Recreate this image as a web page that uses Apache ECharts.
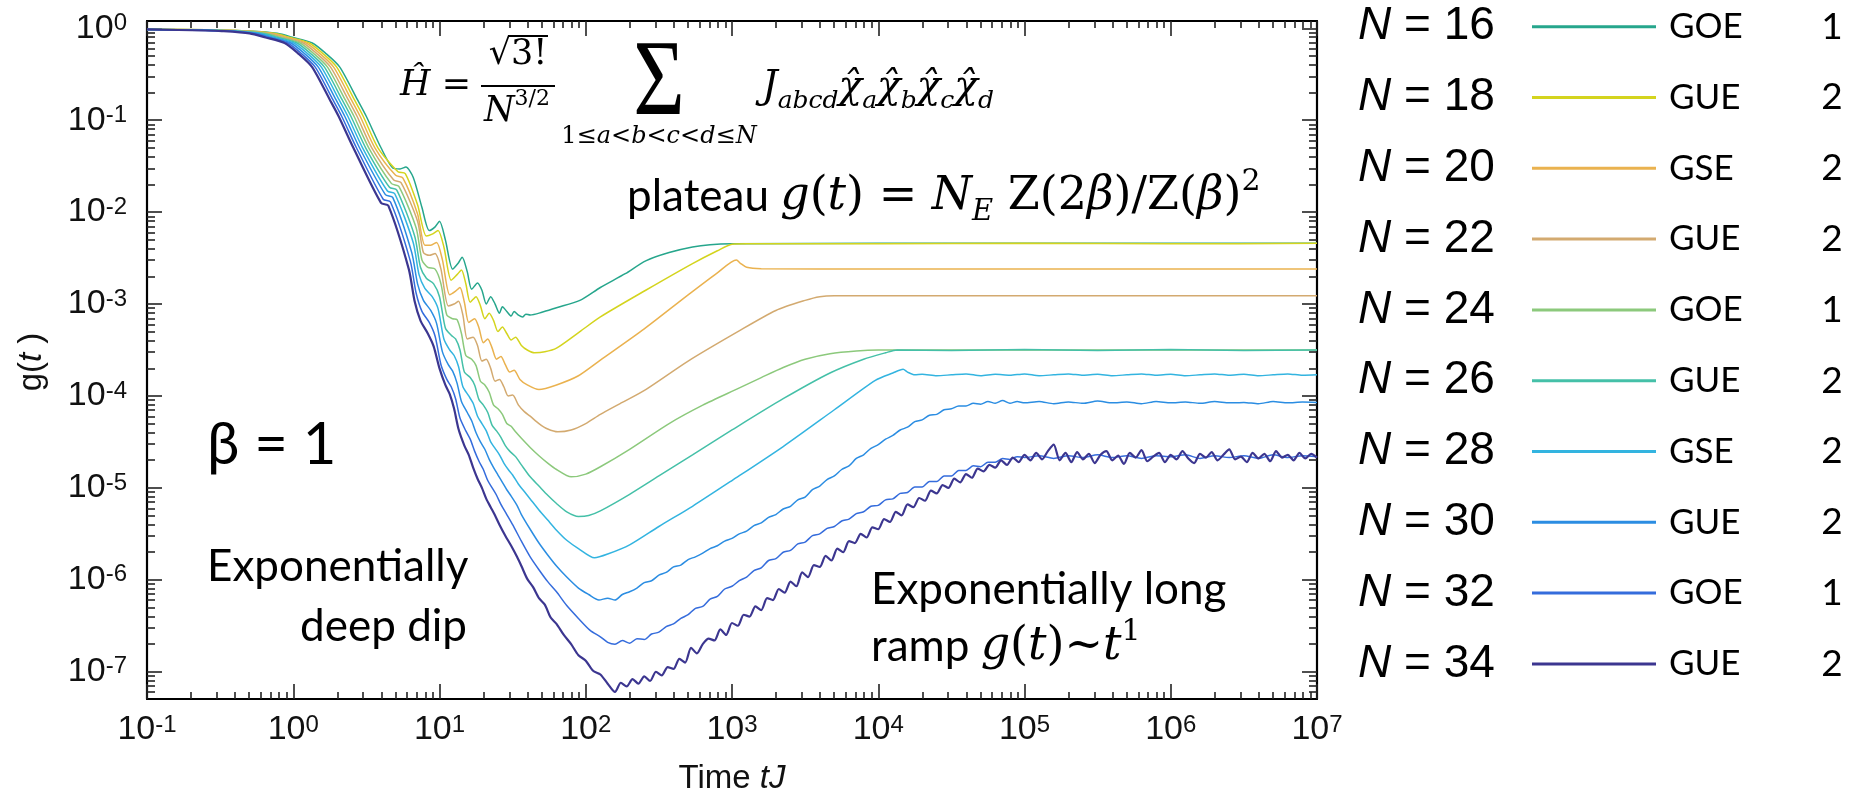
<!DOCTYPE html>
<html><head><meta charset="utf-8">
<script src="https://cdn.jsdelivr.net/npm/echarts@6/dist/echarts.min.js"></script>
<style>html,body{margin:0;padding:0;background:#fff}#c{width:1865px;height:799px}</style>
</head><body><div id="c"></div>
<script>
// ---------- categories / legend ----------
const sizesN = [16, 18, 20, 22, 24, 26, 28, 30, 32, 34];
const ensembles = ['GOE', 'GUE', 'GSE', 'GUE', 'GOE', 'GUE', 'GSE', 'GUE', 'GOE', 'GUE'];
const ensembleNums = ['1', '2', '2', '2', '1', '2', '2', '2', '1', '2'];
const colors = ['#26a68c', '#d4d41e', '#eab24f', '#d3aa70', '#8cc97c', '#45c0a8', '#33b4e0', '#2b8de2', '#356cdc', '#3c3690'];

// ---------- tick labels (exponents of 10) ----------
const xMajorExp = [-1, 0, 1, 2, 3, 4, 5, 6, 7];
const yMajorExp = [-7, -6, -5, -4, -3, -2, -1, 0];
const minorMult = [2, 3, 4, 5, 6, 7, 8, 9];

// ---------- series values: [log10(tJ), log10(g)] ----------
const curveN16 = [[-1,-0.013],[-0.6,-0.015],[-0.3,-0.03],[-0.11,-0.055],[0,-0.1],[0.13,-0.16],[0.22,-0.27],[0.317,-0.42],[0.44,-0.78],[0.5,-0.96],[0.6,-1.3],[0.68,-1.52],[0.73,-1.53],[0.77,-1.51],[0.82,-1.62],[0.88,-1.95],[0.93,-2.2],[0.97,-2.16],[1.0,-2.1],[1.04,-2.3],[1.09,-2.62],[1.13,-2.55],[1.155,-2.49],[1.19,-2.65],[1.22,-2.84],[1.26,-2.77],[1.29,-2.85],[1.32,-3.0],[1.35,-2.92],[1.38,-3.0],[1.41,-3.1],[1.43,-3.03],[1.46,-3.08],[1.49,-3.13],[1.51,-3.08],[1.54,-3.12],[1.57,-3.14],[1.59,-3.11],[1.62,-3.12],[1.7,-3.09],[1.8,-3.04],[1.96,-2.96],[2.1,-2.82],[2.27,-2.67],[2.41,-2.53],[2.57,-2.44],[2.73,-2.38],[2.85,-2.355],[3.0,-2.345],[4,-2.34],[5,-2.34],[6,-2.34],[7,-2.34]];
const curveN18 = [[-1,-0.013],[-0.6,-0.016],[-0.321,-0.03],[-0.131,-0.055],[-0.021,-0.1],[0.109,-0.16],[0.199,-0.27],[0.296,-0.42],[0.419,-0.78],[0.479,-0.96],[0.579,-1.3],[0.716,-1.56],[0.766,-1.58],[0.85,-1.92],[0.91,-2.26],[0.95,-2.24],[0.99,-2.2],[1.03,-2.38],[1.08,-2.74],[1.12,-2.68],[1.15,-2.63],[1.18,-2.78],[1.21,-2.98],[1.25,-2.92],[1.28,-3.02],[1.31,-3.16],[1.34,-3.1],[1.37,-3.18],[1.4,-3.3],[1.43,-3.25],[1.46,-3.32],[1.49,-3.39],[1.52,-3.36],[1.56,-3.45],[1.6,-3.5],[1.65,-3.53],[1.72,-3.52],[1.8,-3.48],[1.96,-3.3],[2.1,-3.14],[2.41,-2.85],[2.73,-2.56],[2.9,-2.42],[3.0,-2.35],[3.1,-2.345],[4,-2.345],[5,-2.34],[6,-2.345],[7,-2.34]];
const curveN20 = [[-1,-0.013],[-0.6,-0.017],[-0.342,-0.03],[-0.152,-0.055],[-0.042,-0.1],[0.088,-0.16],[0.178,-0.27],[0.275,-0.42],[0.398,-0.78],[0.458,-0.96],[0.558,-1.3],[0.7,-1.6],[0.75,-1.63],[0.85,-2.02],[0.9,-2.36],[0.94,-2.36],[0.98,-2.33],[1.02,-2.52],[1.07,-2.9],[1.11,-2.86],[1.14,-2.82],[1.17,-2.98],[1.2,-3.2],[1.24,-3.16],[1.27,-3.26],[1.3,-3.42],[1.33,-3.38],[1.36,-3.48],[1.39,-3.6],[1.42,-3.57],[1.45,-3.66],[1.48,-3.74],[1.51,-3.72],[1.55,-3.82],[1.6,-3.88],[1.68,-3.93],[1.8,-3.88],[1.95,-3.78],[2.1,-3.61],[2.4,-3.27],[2.7,-2.9],[2.9,-2.66],[3.03,-2.52],[3.06,-2.56],[3.1,-2.6],[3.2,-2.615],[4,-2.62],[5,-2.62],[6,-2.62],[7,-2.62]];
const curveN22 = [[-1,-0.013],[-0.6,-0.018],[-0.363,-0.03],[-0.173,-0.055],[-0.063,-0.1],[0.067,-0.16],[0.157,-0.27],[0.254,-0.42],[0.377,-0.78],[0.437,-0.96],[0.537,-1.3],[0.687,-1.65],[0.737,-1.68],[0.85,-2.1],[0.89,-2.44],[0.93,-2.47],[0.97,-2.45],[1.01,-2.62],[1.06,-3.02],[1.1,-3.0],[1.13,-2.97],[1.16,-3.12],[1.19,-3.38],[1.23,-3.36],[1.26,-3.45],[1.29,-3.62],[1.32,-3.6],[1.35,-3.7],[1.38,-3.84],[1.41,-3.82],[1.44,-3.9],[1.47,-4.0],[1.5,-3.99],[1.54,-4.1],[1.58,-4.17],[1.62,-4.22],[1.68,-4.3],[1.74,-4.36],[1.81,-4.39],[1.9,-4.37],[2.0,-4.3],[2.1,-4.2],[2.25,-4.07],[2.41,-3.93],[2.7,-3.62],[3.04,-3.3],[3.3,-3.07],[3.5,-2.96],[3.6,-2.92],[3.7,-2.91],[4.5,-2.91],[5.5,-2.91],[7,-2.91]];
const curveN24 = [[-1,-0.013],[-0.6,-0.019],[-0.384,-0.03],[-0.194,-0.055],[-0.084,-0.1],[0.046,-0.16],[0.136,-0.27],[0.233,-0.42],[0.356,-0.78],[0.416,-0.96],[0.516,-1.3],[0.672,-1.69],[0.722,-1.72],[0.84,-2.17],[0.88,-2.52],[0.92,-2.6],[0.97,-2.62],[1.01,-2.78],[1.05,-3.12],[1.09,-3.16],[1.12,-3.17],[1.15,-3.32],[1.18,-3.56],[1.22,-3.6],[1.25,-3.67],[1.28,-3.84],[1.31,-3.88],[1.34,-3.96],[1.37,-4.1],[1.4,-4.14],[1.43,-4.2],[1.46,-4.3],[1.49,-4.33],[1.52,-4.39],[1.56,-4.46],[1.62,-4.56],[1.68,-4.65],[1.74,-4.73],[1.8,-4.8],[1.9,-4.88],[2.0,-4.85],[2.1,-4.77],[2.3,-4.58],[2.57,-4.3],[2.8,-4.1],[3.04,-3.92],[3.2,-3.8],[3.35,-3.69],[3.5,-3.6],[3.67,-3.54],[3.85,-3.51],[4.0,-3.5],[5,-3.5],[6,-3.5],[7,-3.5]];
const curveN26 = [[-1,-0.013],[-0.6,-0.02],[-0.405,-0.03],[-0.215,-0.055],[-0.105,-0.1],[0.025,-0.16],[0.115,-0.27],[0.212,-0.42],[0.335,-0.78],[0.395,-0.96],[0.495,-1.3],[0.658,-1.73],[0.708,-1.76],[0.83,-2.26],[0.87,-2.6],[0.91,-2.72],[0.96,-2.78],[1.0,-2.92],[1.04,-3.26],[1.08,-3.34],[1.11,-3.38],[1.14,-3.5],[1.17,-3.74],[1.21,-3.8],[1.24,-3.88],[1.27,-4.04],[1.3,-4.1],[1.33,-4.18],[1.36,-4.32],[1.39,-4.38],[1.42,-4.45],[1.45,-4.54],[1.48,-4.6],[1.52,-4.66],[1.56,-4.75],[1.62,-4.88],[1.68,-4.98],[1.74,-5.08],[1.8,-5.17],[1.87,-5.26],[1.95,-5.31],[2.02,-5.3],[2.1,-5.25],[2.3,-5.07],[2.5,-4.87],[2.73,-4.64],[3.0,-4.37],[3.35,-4.03],[3.67,-3.75],[3.9,-3.6],[4.05,-3.53],[4.13,-3.5],[4.5,-3.505],[5,-3.495],[5.5,-3.505],[6,-3.495],[6.5,-3.505],[7,-3.5]];
const curveN28 = [[-1,-0.013],[-0.6,-0.021],[-0.426,-0.03],[-0.236,-0.055],[-0.126,-0.1],[0.004,-0.16],[0.094,-0.27],[0.191,-0.42],[0.314,-0.78],[0.374,-0.96],[0.474,-1.3],[0.644,-1.77],[0.694,-1.8],[0.82,-2.33],[0.86,-2.68],[0.9,-2.83],[0.95,-2.92],[0.99,-3.05],[1.03,-3.38],[1.07,-3.5],[1.1,-3.56],[1.13,-3.68],[1.16,-3.9],[1.2,-4.0],[1.23,-4.08],[1.26,-4.22],[1.29,-4.3],[1.32,-4.38],[1.35,-4.5],[1.38,-4.57],[1.41,-4.64],[1.44,-4.73],[1.47,-4.8],[1.5,-4.86],[1.54,-4.96],[1.58,-5.04],[1.62,-5.12],[1.68,-5.24],[1.74,-5.35],[1.8,-5.46],[1.87,-5.57],[1.95,-5.66],[2.06,-5.76],[2.15,-5.72],[2.3,-5.62],[2.5,-5.42],[2.73,-5.2],[3.0,-4.92],[3.35,-4.55],[3.7,-4.15],[3.98,-3.83],[4.1,-3.75],[4.17,-3.71],[4.2,-3.74],[4.25,-3.77],[4.3,-3.765],[4.4,-3.78],[4.5,-3.77],[4.6,-3.76],[4.7,-3.78],[4.8,-3.765],[4.9,-3.775],[5.0,-3.76],[5.1,-3.78],[5.2,-3.77],[5.3,-3.76],[5.4,-3.775],[5.5,-3.765],[5.6,-3.78],[5.7,-3.77],[5.8,-3.76],[5.9,-3.775],[6.0,-3.765],[6.1,-3.78],[6.2,-3.77],[6.3,-3.76],[6.4,-3.775],[6.5,-3.765],[6.6,-3.78],[6.7,-3.77],[6.8,-3.76],[6.9,-3.775],[7.0,-3.77]];
const curveN30 = [[-1,-0.013],[-0.6,-0.022],[-0.447,-0.03],[-0.257,-0.055],[-0.147,-0.1],[-0.017,-0.16],[0.073,-0.27],[0.17,-0.42],[0.293,-0.78],[0.353,-0.96],[0.453,-1.3],[0.63,-1.81],[0.68,-1.84],[0.81,-2.44],[0.85,-2.78],[0.89,-2.96],[0.94,-3.07],[0.98,-3.21],[1.02,-3.52],[1.06,-3.66],[1.09,-3.73],[1.12,-3.86],[1.15,-4.06],[1.19,-4.18],[1.22,-4.27],[1.25,-4.4],[1.28,-4.5],[1.31,-4.58],[1.34,-4.69],[1.37,-4.78],[1.4,-4.86],[1.43,-4.94],[1.46,-5.02],[1.49,-5.09],[1.53,-5.19],[1.56,-5.29],[1.62,-5.45],[1.68,-5.6],[1.74,-5.73],[1.8,-5.85],[1.87,-5.97],[1.95,-6.09],[2.02,-6.16],[2.09,-6.22],[2.15,-6.2],[2.2,-6.22],[2.25,-6.16],[2.3,-6.13],[2.35,-6.09],[2.4,-6.03],[2.45,-6.01],[2.5,-5.95],[2.55,-5.92],[2.6,-5.86],[2.65,-5.84],[2.7,-5.78],[2.75,-5.75],[2.8,-5.71],[2.85,-5.66],[2.9,-5.63],[2.95,-5.58],[3.0,-5.55],[3.05,-5.5],[3.1,-5.47],[3.15,-5.41],[3.2,-5.38],[3.25,-5.32],[3.3,-5.29],[3.35,-5.23],[3.4,-5.2],[3.45,-5.13],[3.5,-5.1],[3.55,-5.02],[3.6,-4.98],[3.65,-4.91],[3.7,-4.87],[3.75,-4.8],[3.8,-4.76],[3.85,-4.68],[3.9,-4.64],[3.95,-4.57],[4.0,-4.53],[4.05,-4.47],[4.1,-4.43],[4.15,-4.37],[4.2,-4.34],[4.25,-4.28],[4.3,-4.26],[4.35,-4.21],[4.4,-4.2],[4.45,-4.15],[4.5,-4.14],[4.55,-4.11],[4.6,-4.11],[4.65,-4.08],[4.7,-4.09],[4.75,-4.06],[4.8,-4.08],[4.85,-4.05],[4.9,-4.08],[4.95,-4.06],[5.0,-4.075],[5.1,-4.06],[5.2,-4.085],[5.3,-4.065],[5.4,-4.08],[5.5,-4.055],[5.6,-4.075],[5.7,-4.065],[5.8,-4.085],[5.9,-4.06],[6.0,-4.075],[6.1,-4.065],[6.2,-4.08],[6.3,-4.06],[6.4,-4.075],[6.5,-4.07],[6.6,-4.085],[6.7,-4.06],[6.8,-4.075],[6.9,-4.065],[7.0,-4.07]];
const curveN32 = [[-1,-0.013],[-0.6,-0.023],[-0.468,-0.03],[-0.278,-0.055],[-0.168,-0.1],[-0.038,-0.16],[0.052,-0.27],[0.149,-0.42],[0.272,-0.78],[0.332,-0.96],[0.432,-1.3],[0.615,-1.86],[0.665,-1.89],[0.8,-2.53],[0.84,-2.88],[0.88,-3.08],[0.93,-3.2],[0.97,-3.35],[1.01,-3.66],[1.05,-3.82],[1.08,-3.9],[1.11,-4.03],[1.14,-4.24],[1.18,-4.38],[1.21,-4.47],[1.24,-4.6],[1.27,-4.71],[1.3,-4.8],[1.33,-4.92],[1.36,-5.0],[1.39,-5.08],[1.42,-5.18],[1.46,-5.29],[1.5,-5.4],[1.56,-5.58],[1.62,-5.75],[1.68,-5.89],[1.74,-6.02],[1.8,-6.13],[1.87,-6.28],[1.95,-6.42],[2.03,-6.55],[2.1,-6.62],[2.15,-6.68],[2.2,-6.7],[2.25,-6.66],[2.3,-6.69],[2.35,-6.64],[2.4,-6.65],[2.45,-6.59],[2.5,-6.57],[2.55,-6.51],[2.6,-6.48],[2.65,-6.42],[2.7,-6.38],[2.75,-6.31],[2.8,-6.29],[2.85,-6.21],[2.9,-6.18],[2.95,-6.1],[3.0,-6.07],[3.05,-6.01],[3.1,-5.97],[3.15,-5.9],[3.2,-5.87],[3.25,-5.79],[3.3,-5.77],[3.35,-5.7],[3.4,-5.68],[3.45,-5.61],[3.5,-5.59],[3.55,-5.52],[3.6,-5.5],[3.65,-5.44],[3.7,-5.42],[3.75,-5.36],[3.8,-5.34],[3.85,-5.28],[3.9,-5.26],[3.95,-5.2],[4.0,-5.19],[4.05,-5.13],[4.1,-5.12],[4.15,-5.06],[4.2,-5.05],[4.25,-4.99],[4.3,-4.99],[4.35,-4.93],[4.4,-4.93],[4.45,-4.87],[4.5,-4.87],[4.55,-4.81],[4.6,-4.81],[4.65,-4.76],[4.7,-4.77],[4.75,-4.72],[4.8,-4.72],[4.85,-4.68],[4.9,-4.69],[4.95,-4.66],[5.0,-4.67],[5.1,-4.65],[5.2,-4.68],[5.3,-4.65],[5.4,-4.67],[5.5,-4.64],[5.6,-4.67],[5.7,-4.65],[5.8,-4.68],[5.9,-4.65],[6.0,-4.66],[6.1,-4.64],[6.2,-4.68],[6.3,-4.65],[6.4,-4.67],[6.5,-4.65],[6.6,-4.68],[6.7,-4.64],[6.8,-4.67],[6.9,-4.65],[7.0,-4.66]];
const curveN34 = [[-1,-0.013],[-0.6,-0.024],[-0.489,-0.03],[-0.299,-0.055],[-0.189,-0.1],[-0.059,-0.16],[0.031,-0.27],[0.128,-0.42],[0.251,-0.78],[0.311,-0.96],[0.411,-1.3],[0.6,-1.9],[0.65,-1.93],[0.79,-2.62],[0.83,-2.97],[0.87,-3.18],[0.92,-3.32],[0.96,-3.46],[1.0,-3.7],[1.04,-3.88],[1.07,-3.98],[1.1,-4.14],[1.13,-4.36],[1.17,-4.54],[1.2,-4.64],[1.23,-4.78],[1.26,-4.9],[1.29,-5.0],[1.32,-5.12],[1.35,-5.21],[1.38,-5.3],[1.41,-5.4],[1.45,-5.52],[1.49,-5.63],[1.53,-5.75],[1.56,-5.85],[1.6,-5.99],[1.64,-6.08],[1.68,-6.2],[1.72,-6.27],[1.76,-6.41],[1.8,-6.48],[1.85,-6.6],[1.9,-6.7],[1.95,-6.82],[2.0,-6.88],[2.05,-6.99],[2.1,-7.03],[2.15,-7.13],[2.2,-7.22],[2.24,-7.12],[2.28,-7.16],[2.32,-7.08],[2.36,-7.13],[2.4,-7.05],[2.44,-7.1],[2.48,-7.0],[2.52,-7.04],[2.56,-6.95],[2.6,-6.97],[2.64,-6.86],[2.68,-6.9],[2.72,-6.74],[2.76,-6.8],[2.8,-6.7],[2.84,-6.64],[2.88,-6.66],[2.92,-6.54],[2.96,-6.6],[3.0,-6.47],[3.04,-6.5],[3.08,-6.38],[3.12,-6.4],[3.16,-6.29],[3.2,-6.33],[3.24,-6.2],[3.28,-6.22],[3.32,-6.1],[3.36,-6.14],[3.4,-6.02],[3.44,-6.07],[3.48,-5.92],[3.52,-5.97],[3.56,-5.84],[3.6,-5.86],[3.64,-5.74],[3.68,-5.79],[3.72,-5.66],[3.76,-5.7],[3.8,-5.58],[3.84,-5.6],[3.88,-5.5],[3.92,-5.54],[3.96,-5.43],[4.0,-5.45],[4.04,-5.34],[4.08,-5.37],[4.12,-5.26],[4.16,-5.3],[4.2,-5.18],[4.24,-5.21],[4.28,-5.11],[4.32,-5.14],[4.36,-5.03],[4.4,-5.06],[4.44,-4.97],[4.48,-5.0],[4.52,-4.9],[4.56,-4.94],[4.6,-4.85],[4.64,-4.89],[4.68,-4.79],[4.72,-4.82],[4.76,-4.75],[4.8,-4.78],[4.84,-4.7],[4.88,-4.75],[4.92,-4.67],[4.96,-4.72],[5.0,-4.64],[5.04,-4.7],[5.08,-4.62],[5.12,-4.69],[5.16,-4.6],[5.2,-4.53],[5.24,-4.7],[5.28,-4.62],[5.32,-4.72],[5.36,-4.61],[5.4,-4.69],[5.44,-4.63],[5.48,-4.73],[5.52,-4.64],[5.56,-4.6],[5.6,-4.7],[5.64,-4.65],[5.68,-4.74],[5.72,-4.62],[5.76,-4.67],[5.8,-4.59],[5.84,-4.71],[5.88,-4.66],[5.92,-4.62],[5.96,-4.72],[6.0,-4.64],[6.04,-4.69],[6.08,-4.6],[6.12,-4.68],[6.16,-4.73],[6.2,-4.63],[6.24,-4.67],[6.28,-4.61],[6.32,-4.7],[6.36,-4.64],[6.4,-4.58],[6.44,-4.69],[6.48,-4.66],[6.52,-4.72],[6.56,-4.62],[6.6,-4.68],[6.64,-4.63],[6.68,-4.71],[6.72,-4.6],[6.76,-4.67],[6.8,-4.64],[6.84,-4.7],[6.88,-4.62],[6.92,-4.68],[6.96,-4.63],[7.0,-4.67]];
const curves = [curveN16, curveN18, curveN20, curveN22, curveN24, curveN26, curveN28, curveN30, curveN32, curveN34];

// ---------- axis ranges ----------
const X_MIN = 0.1, X_MAX = 1e7, Y_MIN = 5.05e-8, Y_MAX = 1.2;

const xMajors = xMajorExp.map(e => Math.pow(10, e));
const yMajors = yMajorExp.map(e => Math.pow(10, e));
const xMinors = [], yMinors = [];
for (let e = -1; e < 7; e++) minorMult.forEach(m => xMinors.push(m * Math.pow(10, e)));
for (let e = -8; e < 0; e++) minorMult.forEach(m => { const v = m * Math.pow(10, e); if (v > Y_MIN && v < Y_MAX) yMinors.push(v); });

const SANS = "'Liberation Sans', Arial, sans-serif";
const SERIF = "'DejaVu Serif', serif";
const CAL = "Lato, 'Open Sans', sans-serif";

const labelRich = {
  b: {fontSize: 34, fontFamily: SANS, color: '#111', lineHeight: 34, padding: [13, 0, 0, 0], verticalAlign: 'bottom'},
  s: {fontSize: 24, fontFamily: SANS, color: '#111', lineHeight: 24, verticalAlign: 'top'}
};
const expFmt = v => '{b|10}{s|' + Math.round(Math.log10(v)) + '}';

function mkX(pos, vals, len, line, label) {
  return {type: 'log', logBase: 10, min: X_MIN, max: X_MAX, position: pos, gridIndex: 0,
    axisLine: {show: line, onZero: false, lineStyle: {color: '#000', width: 2.2}},
    axisTick: {show: true, inside: true, length: len, customValues: vals, lineStyle: {color: '#222', width: 1.6}},
    axisLabel: label ? {show: true, customValues: vals, formatter: expFmt, rich: labelRich, margin: 14, fontSize: 34, fontFamily: SANS} : {show: false},
    splitLine: {show: false}, minorTick: {show: false}, minorSplitLine: {show: false}};
}
function mkY(pos, vals, len, line, label) {
  return {type: 'log', logBase: 10, min: Y_MIN, max: Y_MAX, position: pos, gridIndex: 0,
    axisLine: {show: line, onZero: false, lineStyle: {color: '#000', width: 2.2}},
    axisTick: {show: true, inside: true, length: len, customValues: vals, lineStyle: {color: '#222', width: 1.6}},
    axisLabel: label ? {show: true, customValues: vals, formatter: expFmt, rich: labelRich, margin: 20, fontSize: 34, fontFamily: SANS} : {show: false},
    splitLine: {show: false}, minorTick: {show: false}, minorSplitLine: {show: false}};
}

const series = curves.map((c, i) => ({
  type: 'line', name: 'N = ' + sizesN[i],
  data: c.map(p => [Math.pow(10, p[0]), Math.pow(10, p[1])]),
  showSymbol: false, symbol: 'none', smooth: 0.25,
  lineStyle: {color: colors[i], width: i === 9 ? 2.2 : 1.5},
  itemStyle: {color: colors[i]}, z: 2 + i, clip: true, animation: false
}));

// ---------- text helpers ----------
function T(x, y, text, rich, align, vAlign, extra) {
  return Object.assign({type: 'text', x: x, y: y, z: 100, silent: true,
    style: {text: text, rich: rich, fill: '#000', align: align || 'left', verticalAlign: vAlign || 'middle',
      textAlign: align || 'left', textVerticalAlign: vAlign || 'middle'}}, extra || {});
}
function plainStyle(text, family, size, align) {
  return {style: {text: text, fontFamily: family, fontSize: size, fill: '#000', align: align, verticalAlign: 'middle', textAlign: align, textVerticalAlign: 'middle'}};
}
const mathRich = {
  p: {fontFamily: CAL, fontSize: 44, fill: '#000', lineHeight: 60},
  i: {fontFamily: SERIF, fontStyle: 'italic', fontSize: 46, fill: '#000', lineHeight: 60},
  r: {fontFamily: SERIF, fontSize: 46, fill: '#000', lineHeight: 60},
  sub: {fontFamily: SERIF, fontStyle: 'italic', fontSize: 29, fill: '#000', lineHeight: 29, verticalAlign: 'bottom'},
  sup: {fontFamily: SERIF, fontSize: 30, fill: '#000', lineHeight: 30, verticalAlign: 'top'}
};
const hamRich = {
  i: {fontFamily: SERIF, fontStyle: 'italic', fontSize: 35, fill: '#000', lineHeight: 48},
  r: {fontFamily: SERIF, fontSize: 35, fill: '#000', lineHeight: 48},
  j: {fontFamily: SERIF, fontStyle: 'italic', fontSize: 39, fill: '#000', lineHeight: 52},
  sub: {fontFamily: SERIF, fontStyle: 'italic', fontSize: 25, fill: '#000', lineHeight: 25, verticalAlign: 'bottom'},
  sup: {fontFamily: SERIF, fontSize: 22, fill: '#000', lineHeight: 22, verticalAlign: 'top'},
  si: {fontFamily: SERIF, fontStyle: 'italic', fontSize: 24, fill: '#000'},
  sr: {fontFamily: SERIF, fontSize: 24, fill: '#000'}
};

const graphics = [];
// axis names
graphics.push(T(732, 779, '{a|Time }{i|tJ}', {a: {fontFamily: SANS, fontSize: 33, fill: '#111'}, i: {fontFamily: SANS, fontStyle: 'italic', fontSize: 33, fill: '#111'}}, 'center', 'middle'));
graphics.push(T(32, 362, '{a|g(}{i|t}{a| )}', {a: {fontFamily: SANS, fontSize: 33, fill: '#111'}, i: {fontFamily: SANS, fontStyle: 'italic', fontSize: 33, fill: '#111'}}, 'center', 'middle', {rotation: Math.PI / 2}));

// Hamiltonian formula
graphics.push(T(400, 86, '{i|Ĥ}{r| =}', hamRich, 'left', 'middle'));
graphics.push(T(518, 55, '{r|√3!}', hamRich, 'center', 'middle'));
graphics.push({type: 'line', z: 100, silent: true, shape: {x1: 508, y1: 36, x2: 548, y2: 36}, style: {stroke: '#000', lineWidth: 2}});
graphics.push({type: 'line', z: 100, silent: true, shape: {x1: 481, y1: 86, x2: 555, y2: 86}, style: {stroke: '#000', lineWidth: 2}});
graphics.push(T(517, 112, '{i|N}{sup|3/2}', hamRich, 'center', 'middle'));
graphics.push(T(659, 86, '', null, 'center', 'middle', Object.assign({scaleX: 0.82}, plainStyle('Σ', "'Liberation Serif', serif", 108, 'center'))));
graphics.push(T(659, 137, '{sr|1≤}{si|a}{sr|<}{si|b}{sr|<}{si|c}{sr|<}{si|d}{sr|≤}{si|N}', hamRich, 'center', 'middle'));
graphics.push(T(762, 88, '{j|J}{sub|abcd}{j|χ̂}{sub|a}{j|χ̂}{sub|b}{j|χ̂}{sub|c}{j|χ̂}{sub|d}', hamRich, 'left', 'middle'));

// plateau formula
graphics.push(T(627, 197, '{p|plateau }{i|g}{r|(}{i|t}{r|) = }{i|N}{sub|E}{r| Z(2}{i|β}{r|)/Z(}{i|β}{r|)}{sup|2}', mathRich, 'left', 'middle'));
// beta
graphics.push(T(207, 445, '', null, 'left', 'middle', plainStyle('β = 1', CAL, 58, 'left')));
// dip
graphics.push(T(207, 567, '{p|Exponentially}', mathRich, 'left', 'middle'));
graphics.push(T(467, 627, '{p|deep dip}', mathRich, 'right', 'middle'));
// ramp
graphics.push(T(871, 590, '{p|Exponentially long}', mathRich, 'left', 'middle'));
graphics.push(T(871, 647, '{p|ramp }{i|g}{r|(}{i|t}{r|)~}{i|t}{sup|1}', mathRich, 'left', 'middle'));

// legend
sizesN.forEach((n, i) => {
  const y = 26.7 + 70.8 * i;
  graphics.push(T(1358, y, '{n|N}{t| = ' + n + '}', {n: {fontFamily: SANS, fontStyle: 'italic', fontSize: 46, fill: '#000'}, t: {fontFamily: SANS, fontSize: 46, fill: '#000'}}, 'left', 'middle'));
  graphics.push({type: 'line', z: 100, silent: true, shape: {x1: 1532, y1: y, x2: 1656, y2: y}, style: {stroke: colors[i], lineWidth: 3}});
  graphics.push(T(1669, y, '', null, 'left', 'middle', plainStyle(ensembles[i], CAL, 35, 'left')));
  graphics.push(T(1832, y, '', null, 'center', 'middle', plainStyle(ensembleNums[i], CAL, 37, 'center')));
});

const chart = echarts.init(document.getElementById('c'), null, {renderer: 'canvas'});
chart.setOption({
  animation: false,
  backgroundColor: '#fff',
  grid: {left: 147, right: 548, top: 21, bottom: 100, containLabel: false, outerBoundsMode: 'none'},
  xAxis: [mkX('bottom', xMajors, 15, true, true), mkX('bottom', xMinors, 7, false, false), mkX('top', xMajors, 15, true, false), mkX('top', xMinors, 7, false, false)],
  yAxis: [mkY('left', yMajors, 15, true, true), mkY('left', yMinors, 8, false, false), mkY('right', yMajors, 15, true, false), mkY('right', yMinors, 8, false, false)],
  series: series,
  graphic: graphics
});
</script>
</body></html>
